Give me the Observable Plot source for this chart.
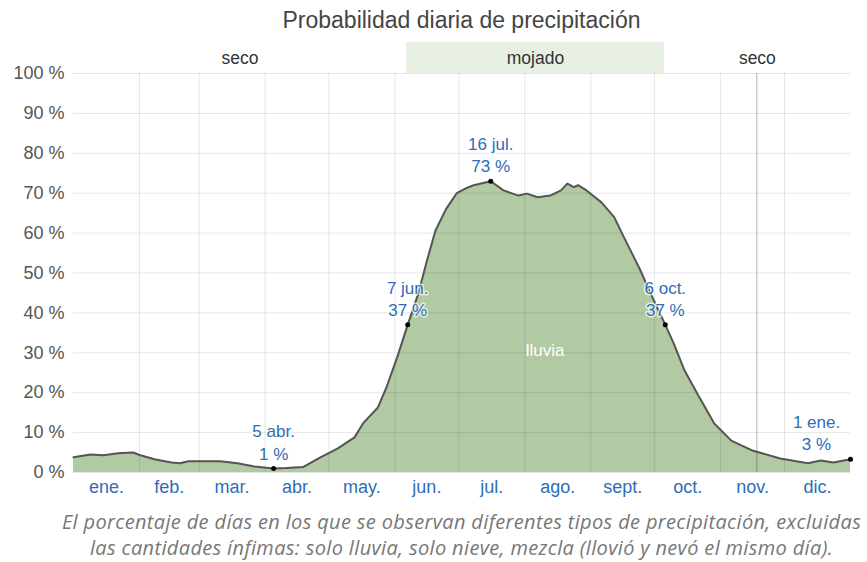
<!DOCTYPE html>
<html>
<head>
<meta charset="utf-8">
<script src="https://cdn.jsdelivr.net/npm/d3@7"></script>
<script src="https://cdn.jsdelivr.net/npm/@observablehq/plot@0.6"></script>
<style>
  html, body { margin: 0; padding: 0; background: #fff; }
  #title { width: 867px; box-sizing: border-box; padding-left: 73px; padding-right: 17px; height: 40px; line-height: 40px; text-align: center; font-family: "Liberation Sans", Arial, sans-serif; font-size: 23px; color: #444; }
  #chart svg { display: block; }
  #caption { width: 867px; box-sizing: border-box; padding-left: 56px; padding-right: 0px; text-align: center; font-family: "Open Sans", sans-serif; font-style: italic; font-size: 20px; letter-spacing: 0.35px; line-height: 26px; color: #777; margin-top: 4px; white-space: nowrap; }
</style>
</head>
<body>
<div id="title">Probabilidad diaria de precipitación</div>
<div id="chart"></div>
<div id="caption">El porcentaje de días en los que se observan diferentes tipos de precipitación, excluidas<br>las cantidades ínfimas: solo lluvia, solo nieve, mezcla (llovió y nevó el mismo día).</div>
<script>
// Day of year (0 = 1 ene.) and daily probability of precipitation (%)
const days = [0, 8, 14, 21, 28, 31, 38, 46, 50, 54, 61, 69, 77, 85, 94, 100, 108, 116, 124, 132, 136, 143, 147, 152, 157, 162, 166, 170, 175, 180, 185, 188, 196, 202, 209, 213, 218, 224, 229, 232, 235, 237, 241, 248, 254, 259, 266, 271, 278, 282, 287, 293, 301, 309, 319, 332, 345, 351, 357, 365];
const values = [3.8, 4.5, 4.3, 4.8, 5.0, 4.4, 3.3, 2.5, 2.3, 2.8, 2.8, 2.8, 2.3, 1.5, 1.0, 1.1, 1.4, 3.8, 6.0, 8.8, 12.3, 16.3, 21.3, 28.8, 37, 44.9, 53, 60.6, 66, 70, 71.4, 72, 73, 70.7, 69.4, 69.9, 69, 69.4, 70.7, 72.4, 71.5, 72, 70.7, 67.7, 64, 58.5, 51, 45, 37, 32.3, 25.6, 19.8, 12.3, 8, 5.5, 3.5, 2.3, 3.0, 2.5, 3.3];

const monthStarts = [0, 31, 59, 90, 120, 151, 181, 212, 243, 273, 304, 334, 365];
const monthLabels = ["ene.", "feb.", "mar.", "abr.", "may.", "jun.", "jul.", "ago.", "sept.", "oct.", "nov.", "dic."];
const yTicks = [0, 10, 20, 30, 40, 50, 60, 70, 80, 90, 100];

const seasonNames = ["seco", "mojado", "seco"];
const seasonStart = [0, 156.5, 277.5];
const seasonEnd = [156.5, 277.5, 365];

const annDays = [94, 157, 196, 278, 365];
const annValues = [1, 37, 73, 37, 3.3];
const annDates = ["5 abr.", "7 jun.", "16 jul.", "6 oct.", "1 ene."];
const annPct = ["1 %", "37 %", "73 %", "37 %", "3 %"];

const todayDay = 321;

const curve = days.map((d, i) => ({day: d, value: values[i]}));
const seasons = seasonNames.map((n, i) => ({name: n, x1: seasonStart[i], x2: seasonEnd[i], mid: (seasonStart[i] + seasonEnd[i]) / 2}));
const ann = annDays.map((d, i) => ({day: d, value: annValues[i], label: annDates[i] + "\n" + annPct[i]}));
const annInner = ann.slice(0, -1);
const annLast = ann.slice(-1);
const monthMids = monthLabels.map((m, i) => (monthStarts[i] + monthStarts[i + 1]) / 2);
const monthMap = new Map(monthMids.map((d, i) => [d, monthLabels[i]]));

const blue = "#2f6cb8";
const annStyle = {x: "day", y: "value", text: "label", lineAnchor: "bottom", dy: -9, lineHeight: 1.3, fill: blue, stroke: "white", strokeOpacity: 0.7, strokeWidth: 3, fontSize: 17};

const chart = Plot.plot({
  width: 867,
  height: 465,
  marginLeft: 73,
  marginRight: 17,
  marginTop: 33,
  marginBottom: 33,
  style: {fontFamily: "'Liberation Sans', Arial, sans-serif", fontSize: "17px", color: "#555", background: "white"},
  x: {domain: [0, 365], label: null},
  y: {domain: [0, 100], label: null},
  marks: [
    Plot.rect(seasons.filter(s => s.name === "mojado"), {x1: "x1", x2: "x2", y1: 100, y2: 107.8, fill: "#e8efe3"}),
    Plot.text(seasons, {x: "mid", y: 103.9, text: "name", fill: "#333", fontSize: 17.5}),
    Plot.areaY(curve, {x: "day", y: "value", fill: "#b2caa3", curve: "linear"}),
    Plot.ruleY(yTicks, {x1: 0, x2: 365, stroke: "#000", strokeOpacity: 0.1}),
    Plot.ruleX(monthStarts.slice(1, -1), {y1: 0, y2: 100, stroke: "#000", strokeOpacity: 0.1}),
    Plot.ruleX([todayDay], {y1: 0, y2: 100, stroke: "#000", strokeOpacity: 0.3}),
    Plot.lineY(curve, {x: "day", y: "value", stroke: "#555", strokeWidth: 2, curve: "linear"}),
    Plot.dot(ann, {x: "day", y: "value", r: 2.5, fill: "#000"}),
    Plot.text(annInner, annStyle),
    Plot.text(annLast, {...annStyle, dx: -34}),
    Plot.text(["lluvia"], {x: 221.5, y: 30.6, text: d => d, fill: "white", fontSize: 17}),
    Plot.axisY({ticks: yTicks, tickSize: 0, tickPadding: 9, tickFormat: d => d + " %", fill: "#555", fontSize: 18, label: null}),
    Plot.axisX({ticks: monthMids, tickSize: 0, tickPadding: 8, tickFormat: d => monthMap.get(d), fill: blue, fontSize: 18, label: null})
  ]
});
document.getElementById("chart").appendChild(chart);
</script>
</body>
</html>
